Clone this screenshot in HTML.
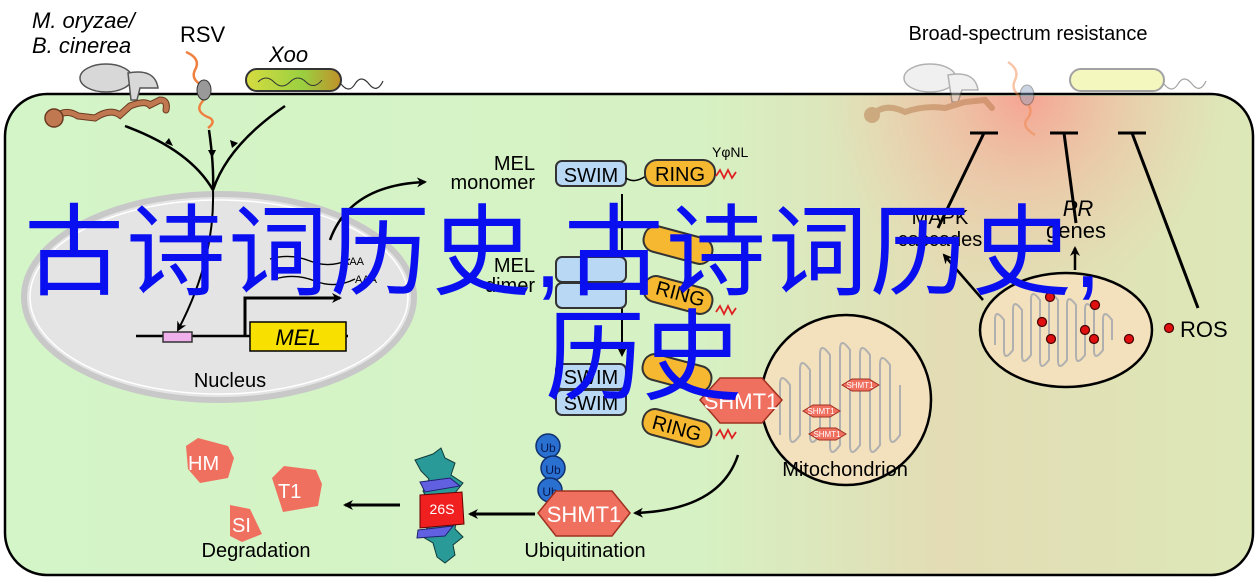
<!DOCTYPE html>
<html><head><meta charset="utf-8"><style>
html,body{margin:0;padding:0;background:#fff;}
svg{display:block;}
.t{font-family:"Liberation Sans",sans-serif;}
.cjk{position:absolute;font-family:"Liberation Sans","Noto Sans CJK SC",sans-serif;color:#0a0ff0;font-size:100px;line-height:1;white-space:nowrap;}
</style></head><body>
<div style="position:relative;width:1257px;height:582px;overflow:hidden;">
<svg width="1257" height="582" viewBox="0 0 1257 582" xmlns="http://www.w3.org/2000/svg">
<defs>
<linearGradient id="bg" x1="0" y1="0" x2="1" y2="0">
<stop offset="0" stop-color="#d3f5c8"/><stop offset="0.55" stop-color="#d6f2c4"/><stop offset="0.75" stop-color="#e3dcb4"/><stop offset="1" stop-color="#dde8b8"/>
</linearGradient>
<radialGradient id="glow" cx="1026" cy="95" r="200" gradientUnits="userSpaceOnUse">
<stop offset="0" stop-color="#f7a090" stop-opacity="0.95"/><stop offset="0.5" stop-color="#f2b8a0" stop-opacity="0.5"/><stop offset="1" stop-color="#f0c8a8" stop-opacity="0"/>
</radialGradient>
<linearGradient id="xoo" x1="0" y1="0" x2="1" y2="0"><stop offset="0" stop-color="#d6dc40"/><stop offset="0.6" stop-color="#9ad040"/><stop offset="1" stop-color="#c0902a"/></linearGradient>
<marker id="ah" markerWidth="10" markerHeight="10" refX="8" refY="5" orient="auto" markerUnits="userSpaceOnUse"><path d="M0,0 L10,5 L0,10 L3,5Z" fill="#000"/></marker>
</defs>
<rect x="5" y="94" width="1248" height="481" rx="42" fill="url(#bg)" stroke="#000" stroke-width="2.5"/>
<path d="M830,96 H1250 V380 H830Z" fill="url(#glow)"/>

<!-- pathogens left -->
<text x="32" y="28" class="t" font-size="22" font-style="italic">M. oryzae/</text>
<text x="32" y="53" class="t" font-size="22" font-style="italic">B. cinerea</text>
<text x="180" y="42" class="t" font-size="22">RSV</text>
<text x="269" y="62" class="t" font-size="22" font-style="italic">Xoo</text>
<ellipse cx="106" cy="78" rx="26" ry="14" fill="#d8d8d8" stroke="#555" stroke-width="1.5"/>
<path d="M128,73 Q155,68 158,88 L140,88 L137,100 L131,100 Z" fill="#d8d8d8" stroke="#555" stroke-width="1.5"/>
<path d="M55,118 Q65,108 78,116 L95,118 Q110,108 120,115 L130,106 Q145,100 150,105 L160,100 Q168,100 166,110" fill="none" stroke="#6a3a20" stroke-width="7" stroke-linecap="round"/>
<path d="M55,118 Q65,108 78,116 L95,118 Q110,108 120,115 L130,106 Q145,100 150,105 L160,100 Q168,100 166,110" fill="none" stroke="#c07850" stroke-width="5" stroke-linecap="round"/>
<circle cx="54" cy="118" r="9" fill="#c07850" stroke="#6a3a20" stroke-width="1.5"/>
<path d="M186,52 Q200,58 196,68 Q190,78 200,84 Q212,90 202,102 Q194,112 210,118 Q216,122 208,128" fill="none" stroke="#f08040" stroke-width="2.5"/>
<ellipse cx="204" cy="90" rx="7" ry="10" fill="#999" stroke="#333" stroke-width="1"/>
<rect x="246" y="69" width="95" height="22" rx="11" fill="url(#xoo)" stroke="#333" stroke-width="2"/>
<path d="M258,82 q8,-8 16,0 t16,0 t16,0 t16,-2" fill="none" stroke="#333" stroke-width="1"/>
<path d="M341,84 q8,10 14,0 t14,0 t14,-3" fill="none" stroke="#333" stroke-width="1.2"/>
<path d="M125,126 Q190,150 213,190" fill="none" stroke="#000" stroke-width="2.5"/>
<path d="M209,130 Q214,165 213,190" fill="none" stroke="#000" stroke-width="2.5"/>
<path d="M285,106 Q228,145 213,190" fill="none" stroke="#000" stroke-width="2.5"/>
<path d="M165,143 l8,3 -4,-8z M208,150 l8,0 -4,8z M232,148 l-2,-8 8,3z" fill="#000"/>

<!-- nucleus -->
<ellipse cx="219" cy="297" rx="195" ry="103" fill="#e4e4e4" stroke="#c8c8c8" stroke-width="6"/>
<ellipse cx="219" cy="297" rx="189" ry="97" fill="none" stroke="#fff" stroke-width="1.5"/>
<path d="M213,190 Q215,260 178,330" fill="none" stroke="#000" stroke-width="2" marker-end="url(#ah)"/>
<line x1="136" y1="336" x2="348" y2="336" stroke="#000" stroke-width="2.5"/>
<rect x="163" y="332" width="29" height="10" fill="#f0b0ec" stroke="#333" stroke-width="1.5"/>
<rect x="250" y="322" width="96" height="29" fill="#f8e000" stroke="#000" stroke-width="1.5"/>
<text x="298" y="345" class="t" font-size="22" font-style="italic" text-anchor="middle">MEL</text>
<path d="M245,336 V298 H340" fill="none" stroke="#000" stroke-width="3" marker-end="url(#ah)"/>
<path d="M270,259 q20,-6 40,2 t40,-2" fill="none" stroke="#000" stroke-width="1.3"/>
<path d="M275,279 q20,-6 40,2 t40,-2" fill="none" stroke="#000" stroke-width="1.3"/>
<text x="342" y="265" class="t" font-size="11">AAA</text>
<text x="355" y="283" class="t" font-size="11">AAA</text>
<path d="M330,240 Q350,185 425,182" fill="none" stroke="#000" stroke-width="2.5" marker-end="url(#ah)"/>
<text x="230" y="387" class="t" font-size="20" text-anchor="middle">Nucleus</text>

<!-- MEL proteins -->
<text x="535" y="170" class="t" font-size="20" text-anchor="end">MEL</text>
<text x="535" y="189" class="t" font-size="20" text-anchor="end">monomer</text>
<rect x="556" y="161" width="70" height="25" rx="6" fill="#b8d8f4" stroke="#333" stroke-width="2"/>
<text x="591" y="182" class="t" font-size="20" text-anchor="middle">SWIM</text>
<path d="M626,178 q8,6 20,-2" fill="none" stroke="#000" stroke-width="1.5"/>
<rect x="645" y="160" width="70" height="26" rx="12" fill="#f5b830" stroke="#333" stroke-width="2"/>
<text x="680" y="181" class="t" font-size="20" text-anchor="middle">RING</text>
<text x="712" y="157" class="t" font-size="14">YφNL</text>
<path d="M716,176 l4,-6 4,8 4,-8 4,8 4,-6" fill="none" stroke="#e02020" stroke-width="1.8"/>
<line x1="622" y1="194" x2="622" y2="355" stroke="#000" stroke-width="2" marker-end="url(#ah)"/>

<text x="535" y="272" class="t" font-size="20" text-anchor="end">MEL</text>
<text x="535" y="292" class="t" font-size="20" text-anchor="end">dimer</text>
<rect x="556" y="257" width="70" height="25" rx="6" fill="#b8d8f4" stroke="#333" stroke-width="2"/>
<rect x="556" y="283" width="70" height="25" rx="6" fill="#b8d8f4" stroke="#333" stroke-width="2"/>
<rect x="643" y="232" width="70" height="26" rx="12" fill="#f5b830" stroke="#333" stroke-width="2" transform="rotate(15 678 245)"/>
<rect x="643" y="282" width="70" height="26" rx="12" fill="#f5b830" stroke="#333" stroke-width="2" transform="rotate(15 678 295)"/>
<text x="680" y="300" class="t" font-size="20" text-anchor="middle" transform="rotate(15 678 295)">RING</text>
<path d="M716,312 l4,-6 4,8 4,-8 4,8 4,-6" fill="none" stroke="#e02020" stroke-width="1.8"/>

<rect x="556" y="364" width="70" height="25" rx="6" fill="#b8d8f4" stroke="#333" stroke-width="2"/>
<rect x="556" y="390" width="70" height="25" rx="6" fill="#b8d8f4" stroke="#333" stroke-width="2"/>
<text x="591" y="410" class="t" font-size="20" text-anchor="middle">SWIM</text>
<text x="591" y="384" class="t" font-size="20" text-anchor="middle">SWIM</text>
<rect x="642" y="360" width="70" height="26" rx="12" fill="#f5b830" stroke="#333" stroke-width="2" transform="rotate(15 677 373)"/>
<rect x="642" y="415" width="70" height="26" rx="12" fill="#f5b830" stroke="#333" stroke-width="2" transform="rotate(15 677 428)"/>
<text x="677" y="435" class="t" font-size="20" text-anchor="middle" transform="rotate(15 677 428)">RING</text>
<path d="M716,436 l4,-6 4,8 4,-8 4,8 4,-6" fill="none" stroke="#e02020" stroke-width="1.8"/>

<!-- mitochondrion left -->
<circle cx="846" cy="400" r="85" fill="#f3e0bc" stroke="#000" stroke-width="2.5"/>
<path d="M780,435 V385 q0,-14 10,0 V435 q0,14 10,0 V370 q0,-14 10,0 V435 q0,14 10,0 V355 q0,-14 10,0 V445 q0,14 10,0 V350 q0,-14 10,0 V445 q0,14 10,0 V355 q0,-14 10,0 V445 q0,14 10,0 V365 q0,-14 10,0 V435 q0,14 10,0 V385" fill="none" stroke="#b0b0b0" stroke-width="2"/>
<polygon points="803,411 813,405 830,405 840,411 830,417 813,417" fill="#f07060" stroke="#a03020"/>
<polygon points="842,385 852,379 869,379 879,385 869,391 852,391" fill="#f07060" stroke="#a03020"/>
<polygon points="809,434 819,428 836,428 846,434 836,440 819,440" fill="#f07060" stroke="#a03020"/>
<text x="821" y="414" class="t" font-size="8" fill="#fff" text-anchor="middle">SHMT1</text>
<text x="860" y="388" class="t" font-size="8" fill="#fff" text-anchor="middle">SHMT1</text>
<text x="827" y="437" class="t" font-size="8" fill="#fff" text-anchor="middle">SHMT1</text>
<polygon points="700,400 720,378 762,378 782,400 762,423 720,423" fill="#f07060" stroke="#a03020" stroke-width="1.5"/>
<text x="741" y="409" class="t" font-size="22" fill="#fff" text-anchor="middle">SHMT1</text>
<text x="845" y="476" class="t" font-size="20" text-anchor="middle">Mitochondrion</text>

<!-- ubiquitination -->
<path d="M738,455 Q720,510 635,513" fill="none" stroke="#000" stroke-width="2.5" marker-end="url(#ah)"/>
<circle cx="548" cy="446" r="12" fill="#2a70d0" stroke="#103070" stroke-width="1.5"/>
<circle cx="553" cy="468" r="12" fill="#2a70d0" stroke="#103070" stroke-width="1.5"/>
<circle cx="550" cy="490" r="12" fill="#2a70d0" stroke="#103070" stroke-width="1.5"/>
<text x="548" y="452" class="t" font-size="12" fill="#081850" text-anchor="middle">Ub</text>
<text x="553" y="474" class="t" font-size="12" fill="#081850" text-anchor="middle">Ub</text>
<text x="550" y="496" class="t" font-size="12" fill="#081850" text-anchor="middle">Ub</text>
<polygon points="538,513 556,491 612,491 630,513 612,536 556,536" fill="#f07060" stroke="#a03020" stroke-width="1.5"/>
<text x="584" y="522" class="t" font-size="22" fill="#fff" text-anchor="middle">SHMT1</text>
<text x="585" y="557" class="t" font-size="20" text-anchor="middle">Ubiquitination</text>
<line x1="535" y1="514" x2="470" y2="514" stroke="#000" stroke-width="3" marker-end="url(#ah)"/>
<path d="M415,460 l18,-6 8,-6 4,10 10,5 -4,12 12,8 -8,10 -4,12 6,10 -2,14 8,8 -10,8 2,10 -10,8 -8,-6 -4,-14 -10,-6 6,-14 -8,-10 8,-10 -6,-12 6,-12 -8,-8z" fill="#2a9a98" stroke="#103a3a"/>
<path d="M420,482 l30,-4 10,8 -35,6z M418,530 l35,-4 -8,10 -28,2z" fill="#6060e0" stroke="#202070"/>
<path d="M420,495 l42,-3 2,32 -44,4z" fill="#f02020" stroke="#600"/>
<text x="442" y="514" class="t" font-size="14" fill="#fff" text-anchor="middle">26S</text>
<line x1="400" y1="505" x2="345" y2="505" stroke="#000" stroke-width="3" marker-end="url(#ah)"/>
<path d="M186,446 l12,-8 30,8 6,12 -6,20 -28,5 -12,-14z" fill="#f07060"/>
<text x="188" y="470" class="t" font-size="20" fill="#fff">HM</text>
<path d="M272,478 l12,-12 32,4 6,14 -4,22 -35,6 z" fill="#f07060"/>
<text x="278" y="498" class="t" font-size="20" fill="#fff">T1</text>
<path d="M230,505 l20,4 12,25 -20,8 -12,-6z" fill="#f07060"/>
<text x="232" y="532" class="t" font-size="20" fill="#fff">SI</text>
<text x="256" y="557" class="t" font-size="20" text-anchor="middle">Degradation</text>

<!-- right side -->
<text x="1028" y="40" class="t" font-size="20" text-anchor="middle">Broad-spectrum resistance</text>
<g opacity="0.45">
<ellipse cx="930" cy="78" rx="26" ry="14" fill="#e0e0e0" stroke="#555" stroke-width="1.5"/>
<path d="M948,75 Q975,70 978,90 L962,90 L958,102 L952,102 Z" fill="#e0e0e0" stroke="#555" stroke-width="1.5"/>
<path d="M872,115 Q885,102 905,112 Q925,105 945,108 L965,102 L985,100 L992,108" fill="none" stroke="#b07040" stroke-width="6" stroke-linecap="round"/>
<circle cx="872" cy="115" r="8" fill="#b07040"/>
<path d="M1008,62 Q1020,70 1015,80 Q1010,90 1022,98 Q1035,108 1028,118 Q1020,126 1035,135" fill="none" stroke="#f08040" stroke-width="2.5"/>
<ellipse cx="1027" cy="95" rx="7" ry="10" fill="#8aa0c0" stroke="#333"/>
<rect x="1070" y="69" width="94" height="22" rx="11" fill="#e8f070" stroke="#333" stroke-width="2"/>
<path d="M1164,84 q8,10 14,0 t14,0 t14,-3" fill="none" stroke="#333" stroke-width="1.2"/>
</g>
<g stroke="#000" stroke-width="3">
<line x1="970" y1="133" x2="998" y2="133"/><line x1="984" y1="133" x2="938" y2="228"/>
<line x1="1050" y1="133" x2="1078" y2="133"/><line x1="1064" y1="133" x2="1076" y2="223"/>
<line x1="1118" y1="133" x2="1146" y2="133"/><line x1="1132" y1="133" x2="1198" y2="308"/>
</g>
<text x="940" y="224" class="t" font-size="20" text-anchor="middle">MAPK</text>
<text x="940" y="246" class="t" font-size="20" text-anchor="middle">cascades</text>
<text x="1078" y="216" class="t" font-size="22" font-style="italic" text-anchor="middle">PR</text>
<text x="1076" y="238" class="t" font-size="22" text-anchor="middle">genes</text>
<line x1="1075" y1="270" x2="1075" y2="248" stroke="#000" stroke-width="2.5" marker-end="url(#ah)"/>
<line x1="983" y1="300" x2="944" y2="255" stroke="#000" stroke-width="2.5" marker-end="url(#ah)"/>
<ellipse cx="1066" cy="330" rx="86" ry="57" fill="#f3e0bc" stroke="#000" stroke-width="2.5"/>
<path d="M995,345 V320 q0,-12 9,0 V350 q0,12 9,0 V310 q0,-12 9,0 V355 q0,12 9,0 V300 q0,-12 9,0 V360 q0,12 9,0 V300 q0,-12 9,0 V360 q0,12 9,0 V305 q0,-12 9,0 V355 q0,12 9,0 V310 q0,-12 9,0 V350 q0,12 9,0 V320 q0,-12 9,0 V340" fill="none" stroke="#b0b0b0" stroke-width="2"/>
<g fill="#e01010" stroke="#400" stroke-width="1.2">
<circle cx="1042" cy="322" r="4.5"/><circle cx="1051" cy="339" r="4.5"/><circle cx="1095" cy="305" r="4.5"/>
<circle cx="1085" cy="330" r="4.5"/><circle cx="1094" cy="339" r="4.5"/><circle cx="1129" cy="339" r="4.5"/><circle cx="1050" cy="297" r="4.5"/>
<circle cx="1169" cy="328" r="4.5"/>
</g>
<text x="1180" y="337" class="t" font-size="22">ROS</text>
</svg>
<div class="cjk" style="left:24px;top:203px;letter-spacing:2px;">古诗词历史,古诗词历史,</div>
<div class="cjk" style="left:545px;top:308px;letter-spacing:-3px;">历史</div>
</div>
</body></html>
